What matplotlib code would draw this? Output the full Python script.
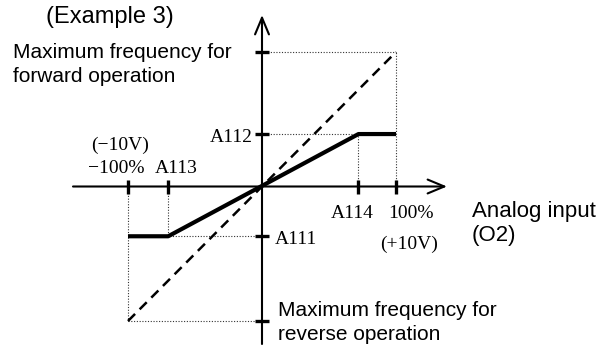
import matplotlib
matplotlib.use("Agg")
import matplotlib.pyplot as plt

# values in % of maximum (input and output frequency)
max_pct = 100
a111 = -37   # output at A113
a112 = 39    # output at A114
a113 = -70   # start of input range
a114 = 72    # end of input range

line_x = [-max_pct, a113, a114, max_pct]
line_y = [a111, a111, a112, a112]
ref_x = [-max_pct, max_pct]
ref_y = [-max_pct, max_pct]

x_ticks = [-max_pct, a113, a114, max_pct]
y_ticks = [max_pct, a112, a111, -max_pct]

# pixel layout of the picture
W, H = 602, 345
ox, oy = 262, 186.5
sx, sy = 1.34, 1.345


def px(x, y):
    return ((x - ox) / sx, (oy - y) / sy)


fig = plt.figure(figsize=(W / 100, H / 100), dpi=100)
ax = fig.add_axes([0, 0, 1, 1])
ax.set_xlim(-ox / sx, (W - ox) / sx)
ax.set_ylim((oy - H) / sy, oy / sy)
ax.axis("off")

serif = "Liberation Serif"
sans = "Liberation Sans"

# dotted guide lines
dot = dict(color="#333333", lw=0.8, ls=(0, (1, 1.5)))
ax.plot([0, max_pct], [max_pct, max_pct], **dot)
ax.plot([max_pct, max_pct], [0, max_pct], **dot)
ax.plot([0, max_pct], [a112, a112], **dot)
ax.plot([a114, a114], [0, a112], **dot)
ax.plot([-max_pct, -max_pct], [0, -max_pct], **dot)
ax.plot([-max_pct, 0], [-max_pct, -max_pct], **dot)
ax.plot([a113, a113], [0, a111], **dot)
ax.plot([-max_pct, 0], [a111, a111], **dot)

# axes with open arrow heads
arrow = dict(arrowstyle="->,head_length=1.2,head_width=0.5", lw=1.5,
             color="black", shrinkA=0, shrinkB=0, mutation_scale=10)
ax.annotate("", xy=px(447, oy), xytext=px(73, oy), arrowprops=arrow)
ax.annotate("", xy=px(ox, 15), xytext=px(ox, 344), arrowprops=arrow)

# reference (dashed) and characteristic (thick) lines
ax.plot(ref_x, ref_y, color="black", lw=1.8, dashes=[4, 2.6])
ax.plot(line_x, line_y, color="black", lw=3.0, solid_capstyle="butt")

# tick marks
ax.plot(x_ticks, [0] * len(x_ticks), ls="none", marker="|", ms=10,
        mew=2.4, color="black")
ax.plot([0] * len(y_ticks), y_ticks, ls="none", marker="_", ms=10,
        mew=2.4, color="black")

# tick labels (serif)
fs_s = 14
def lab(text, xy, dx, dy, ha):
    ax.annotate(text, xy=xy, xytext=(dx, dy), textcoords="offset pixels",
                ha=ha, va="baseline", fontsize=fs_s, family=serif)

lab("A112", (0, a112), -9, -7.5, "right")
lab("A111", (0, a111), 13, -7.5, "left")
lab("\u2212100%", (-max_pct, 0), -12, 13.5, "center")
lab("(\u221210V)", (-max_pct, 0), -8, 37, "center")
lab("A113", (a113, 0), 8, 13.5, "center")
lab("A114", (a114, 0), -6, -31.5, "center")
lab("100%", (max_pct, 0), 15, -31.5, "center")
lab("(+10V)", (max_pct, 0), 13, -62, "center")

# descriptive texts (sans)
fs = 15
ax.text(*px(46, 23.5), "(Example 3)", fontsize=17, family=sans, va="baseline")
ax.text(*px(13, 58), "Maximum frequency for", fontsize=fs, family=sans, va="baseline")
ax.text(*px(13, 82), "forward operation", fontsize=fs, family=sans, va="baseline")
ax.text(*px(472, 216.5), "Analog input", fontsize=16, family=sans, va="baseline")
ax.text(*px(472, 241), "(O2)", fontsize=16, family=sans, va="baseline")
ax.text(*px(278, 316.5), "Maximum frequency for", fontsize=fs, family=sans, va="baseline")
ax.text(*px(278, 340), "reverse operation", fontsize=fs, family=sans, va="baseline")

fig.savefig("out.png", dpi=100, facecolor="white")
